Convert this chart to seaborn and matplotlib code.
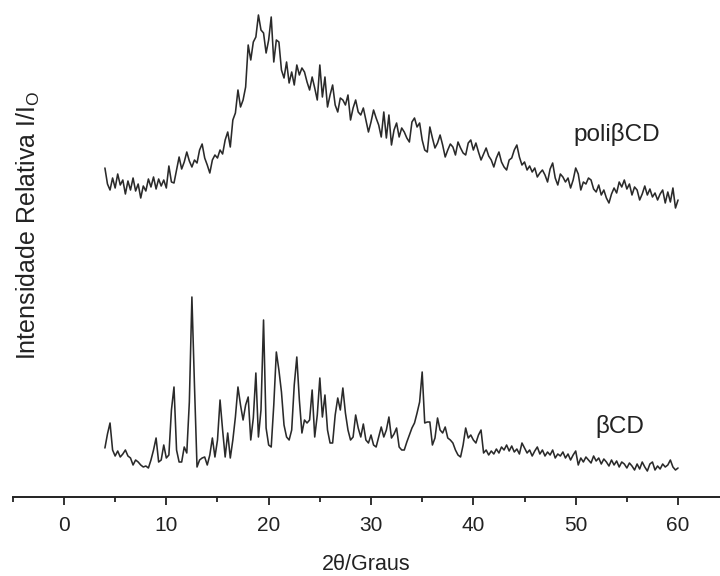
import numpy as np
import pandas as pd
import seaborn as sns
import matplotlib
matplotlib.use("Agg")
import matplotlib.pyplot as plt
from matplotlib.ticker import MultipleLocator

# 2theta grid of the diffractograms (degrees)
theta_start = 4.0
theta_step = 0.25

# relative intensity, one row per degree (4.00, 4.25, 4.50, 4.75 ...)
poli_bcd = [
    332, 316, 310, 322,   # 4
    312, 326, 315, 320,   # 5
    306, 319, 310, 322,   # 6
    309, 316, 302, 314,   # 7
    309, 321, 313, 323,   # 8
    311, 321, 314, 320,   # 9
    312, 334, 318, 317,   # 10
    330, 343, 331, 338,   # 11
    348, 339, 333, 340,   # 12
    337, 350, 356, 342,   # 13
    335, 327, 340, 345,   # 14
    342, 350, 346, 360,   # 15
    368, 353, 380, 387,   # 16
    410, 393, 400, 413,   # 17
    455, 440, 458, 463,   # 18
    485, 470, 467, 447,   # 19
    460, 483, 438, 460,   # 20
    458, 430, 422, 438,   # 21
    417, 428, 415, 435,   # 22
    425, 432, 428, 418,   # 23
    410, 423, 412, 400,   # 24
    435, 403, 423, 393,   # 25
    405, 415, 395, 388,   # 26
    402, 400, 395, 405,   # 27
    380, 392, 400, 388,   # 28
    385, 392, 380, 368,   # 29
    378, 390, 382, 375,   # 30
    363, 388, 362, 385,   # 31
    355, 370, 377, 363,   # 32
    372, 368, 362, 358,   # 33
    378, 382, 373, 377,   # 34
    360, 350, 348, 373,   # 35
    362, 352, 357, 365,   # 36
    355, 343, 350, 356,   # 37
    353, 345, 358, 352,   # 38
    347, 345, 357, 360,   # 39
    350, 357, 348, 340,   # 40
    346, 352, 344, 340,   # 41
    333, 342, 348, 338,   # 42
    333, 330, 340, 342,   # 43
    350, 355, 343, 335,   # 44
    338, 330, 334, 328,   # 45
    332, 323, 327, 330,   # 46
    325, 318, 331, 337,   # 47
    322, 315, 326, 323,   # 48
    318, 322, 312, 320,   # 49
    332, 326, 310, 318,   # 50
    316, 322, 320, 311,   # 51
    308, 315, 305, 310,   # 52
    302, 297, 306, 312,   # 53
    307, 318, 313, 320,   # 54
    311, 316, 305, 313,   # 55
    310, 300, 306, 314,   # 56
    305, 311, 303, 307,   # 57
    300, 306, 310, 297,   # 58
    308, 298, 312, 292,   # 59
    300,                  # 60
]

bcd = [
    52, 66, 77, 50,       # 4
    44, 49, 43, 46,       # 5
    50, 44, 42, 35,       # 6
    40, 38, 35, 33,       # 7
    34, 32, 40, 50,       # 8
    62, 38, 40, 55,       # 9
    42, 45, 90, 113,      # 10
    50, 38, 38, 53,       # 11
    47, 98, 203, 115,     # 12
    33, 40, 42, 43,       # 13
    35, 45, 62, 43,       # 14
    60, 100, 70, 43,      # 15
    67, 42, 60, 83,       # 16
    113, 95, 80, 95,      # 17
    103, 60, 82, 127,     # 18
    63, 90, 180, 72,      # 19
    55, 53, 95, 148,      # 20
    130, 108, 75, 63,     # 21
    60, 70, 115, 143,     # 22
    100, 67, 80, 77,      # 23
    80, 110, 63, 85,      # 24
    122, 83, 105, 70,     # 25
    57, 57, 85, 102,      # 26
    90, 112, 87, 70,      # 27
    60, 63, 85, 72,       # 28
    63, 76, 60, 57,       # 29
    65, 55, 53, 63,       # 30
    73, 63, 70, 83,       # 31
    62, 66, 72, 53,       # 32
    50, 50, 58, 65,       # 33
    72, 77, 87, 98,       # 34
    128, 77, 78, 78,      # 35
    55, 62, 82, 70,       # 36
    67, 73, 62, 60,       # 37
    57, 50, 45, 43,       # 38
    55, 72, 62, 65,       # 39
    60, 57, 65, 70,       # 40
    47, 50, 45, 49,       # 41
    46, 51, 47, 53,       # 42
    50, 55, 49, 54,       # 43
    48, 51, 46, 57,       # 44
    52, 47, 50, 44,       # 45
    49, 53, 46, 50,       # 46
    44, 48, 45, 50,       # 47
    42, 46, 44, 48,       # 48
    42, 46, 40, 45,       # 49
    49, 35, 42, 38,       # 50
    43, 40, 37, 44,       # 51
    39, 42, 36, 41,       # 52
    38, 34, 40, 35,       # 53
    39, 33, 38, 36,       # 54
    32, 37, 34, 30,       # 55
    36, 31, 38, 33,       # 56
    29, 36, 38, 30,       # 57
    34, 31, 36, 33,       # 58
    35, 40, 33, 30,       # 59
    32,                   # 60
]

theta_poli = theta_start + theta_step * np.arange(len(poli_bcd))
theta_bcd = theta_start + theta_step * np.arange(len(bcd))

df_poli = pd.DataFrame({"theta": theta_poli, "I": poli_bcd})
df_bcd = pd.DataFrame({"theta": theta_bcd, "I": bcd})

sns.set_style("white")
plt.rcParams["font.family"] = ["Liberation Sans", "DejaVu Sans"]

fig = plt.figure(figsize=(7.2, 5.76), dpi=100)
ax = fig.add_axes([12.8 / 720, 79 / 576, 1 - 12.8 / 720, 497 / 576])

sns.lineplot(data=df_poli, x="theta", y="I", ax=ax, color="#2a2a2a", lw=1.15)
sns.lineplot(data=df_bcd, x="theta", y="I", ax=ax, color="#2a2a2a", lw=1.15)

ax.set_xlim(-5, 64.1)
ax.set_ylim(3, 500)

for s in ["left", "top", "right"]:
    ax.spines[s].set_visible(False)
ax.spines["bottom"].set_color("#222222")
ax.spines["bottom"].set_linewidth(1.4)

ax.xaxis.set_major_locator(MultipleLocator(10))
ax.xaxis.set_minor_locator(MultipleLocator(5))
ax.tick_params(axis="x", which="major", direction="out", length=6, width=1.3,
               colors="#222222", labelsize=15, pad=8, bottom=True)
ax.tick_params(axis="x", which="minor", direction="out", length=3.5, width=1.3,
               colors="#222222", bottom=True)
ax.set_yticks([])

ax.set_xlabel("2θ/Graus", fontsize=15.5, color="#222222", labelpad=13)
ax.set_ylabel(r"Intensidade Relativa I/I$_\mathregular{O}$", fontsize=18, color="#222222")
ax.yaxis.set_label_coords((42 - 12.8) / 707, 1 - 225 / 497)

ax.text(54.0, 365, "poliβCD", fontsize=17.5, ha="center", va="center", color="#222222")
ax.text(54.3, 73, "βCD", fontsize=17.5, ha="center", va="center", color="#222222")

fig.savefig("out.png", dpi=100)
